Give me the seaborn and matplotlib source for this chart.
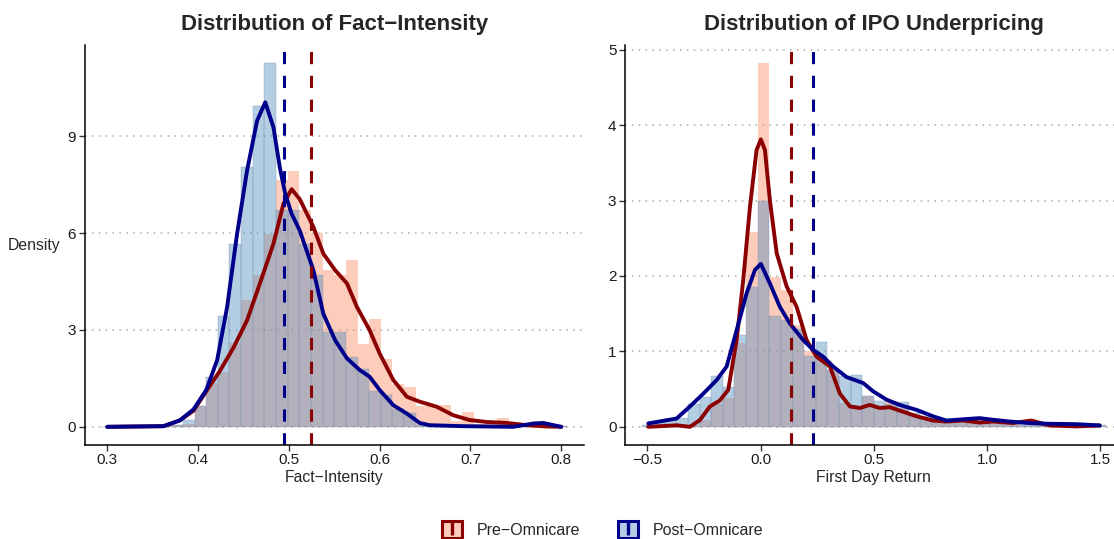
import numpy as np
import pandas as pd
import matplotlib
matplotlib.use("Agg")
import matplotlib.pyplot as plt
import seaborn as sns
from matplotlib.patches import Patch
from matplotlib.lines import Line2D
from matplotlib.legend_handler import HandlerTuple

# ---- data ----
# Fact-intensity histogram (40 bins over 0.3..0.8, density scale)
fact_bins = np.linspace(0.3, 0.8, 40)
fact_pre_hist = [0, 0, 0, 0, 0, 0.02, 0.05, 0.10, 0.65, 1.35,
                 1.70, 2.60, 3.92, 4.69, 5.98, 7.63, 7.91, 6.72, 6.01, 4.87,
                 4.69, 5.16, 2.58, 3.35, 2.11, 1.33, 1.24, 0.64, 0.69, 0.69,
                 0.17, 0.45, 0.10, 0.10, 0.26, 0.10, 0.05, 0.05, 0.02, 0.02]
fact_post_hist = [0, 0, 0, 0, 0, 0.02, 0.05, 0.20, 0.66, 1.55,
                  3.42, 5.65, 8.04, 9.95, 11.26, 6.70, 6.70, 5.65, 4.71, 2.93,
                  2.93, 2.17, 1.80, 1.11, 0.98, 0.54, 0.44, 0.06, 0.05, 0.05,
                  0.03, 0.03, 0.02, 0.02, 0.02, 0.05, 0.10, 0.15, 0.05, 0.02]

# Fact-intensity density curves
fact_pre_kde_x = [0.300, 0.362, 0.380, 0.395, 0.409, 0.424, 0.439, 0.454, 0.468, 0.483,
                  0.494, 0.503, 0.512, 0.527, 0.538, 0.551, 0.564, 0.575, 0.589, 0.600,
                  0.615, 0.630, 0.644, 0.663, 0.681, 0.699, 0.718, 0.740, 0.762, 0.784, 0.800]
fact_pre_kde_y = [0.00, 0.02, 0.20, 0.50, 1.10, 1.73, 2.45, 3.30, 4.43, 5.67,
                  6.90, 7.36, 7.05, 6.19, 5.36, 4.85, 4.44, 3.71, 2.99, 2.27,
                  1.45, 0.93, 0.78, 0.62, 0.36, 0.21, 0.15, 0.12, 0.05, 0.01, 0.00]
fact_post_kde_x = [0.300, 0.362, 0.380, 0.395, 0.409, 0.421, 0.432, 0.443, 0.454, 0.465,
                   0.474, 0.483, 0.490, 0.496, 0.503, 0.512, 0.527, 0.538, 0.551, 0.564,
                   0.578, 0.589, 0.600, 0.615, 0.630, 0.644, 0.655, 0.692, 0.747, 0.769,
                   0.780, 0.800]
fact_post_kde_y = [0.00, 0.02, 0.20, 0.54, 1.14, 2.06, 3.71, 5.98, 7.94, 9.48,
                   10.05, 9.28, 8.04, 7.22, 6.60, 6.08, 4.85, 3.50, 2.68, 2.12,
                   1.76, 1.55, 1.14, 0.67, 0.41, 0.12, 0.05, 0.02, 0.00, 0.10,
                   0.12, 0.00]

# First day return histogram (40 bins over -0.5..1.5)
ret_bins = np.linspace(-0.5, 1.5, 40)
ret_pre_hist = [0.00, 0.02, 0.02, 0.03, 0.02, 0.09, 0.30, 0.38, 1.11, 2.58,
                4.82, 1.98, 1.82, 1.35, 1.00, 0.94, 0.75, 0.31, 0.25, 0.41,
                0.25, 0.34, 0.25, 0.15, 0.10, 0.08, 0.10, 0.05, 0.08, 0.05,
                0.04, 0.05, 0.03, 0.10, 0.03, 0.01, 0.01, 0.01, 0.01, 0.01]
ret_post_hist = [0.02, 0.05, 0.10, 0.12, 0.30, 0.40, 0.67, 0.53, 1.22, 1.85,
                 3.00, 1.47, 1.41, 1.30, 0.94, 1.12, 0.75, 0.68, 0.69, 0.41,
                 0.34, 0.30, 0.33, 0.18, 0.15, 0.10, 0.08, 0.10, 0.10, 0.08,
                 0.10, 0.06, 0.05, 0.04, 0.03, 0.03, 0.02, 0.02, 0.02, 0.02]

# First day return density curves
ret_pre_kde_x = [-0.496, -0.371, -0.312, -0.268, -0.224, -0.180, -0.143, -0.106, -0.077, -0.047,
                 -0.018, 0.001, 0.019, 0.041, 0.071, 0.115, 0.159, 0.203, 0.247, 0.306,
                 0.350, 0.394, 0.438, 0.482, 0.526, 0.570, 0.629, 0.688, 0.761, 0.820,
                 0.894, 0.967, 1.026, 1.114, 1.195, 1.276, 1.394, 1.497]
ret_pre_kde_y = [0.00, 0.02, 0.00, 0.09, 0.27, 0.35, 0.49, 1.15, 1.94, 2.92,
                 3.67, 3.81, 3.67, 3.00, 2.30, 1.86, 1.59, 1.15, 0.93, 0.80,
                 0.44, 0.27, 0.25, 0.29, 0.25, 0.26, 0.20, 0.14, 0.083, 0.07,
                 0.083, 0.057, 0.07, 0.05, 0.083, 0.018, 0.005, 0.018]
ret_post_kde_x = [-0.496, -0.371, -0.312, -0.253, -0.194, -0.150, -0.106, -0.062, -0.025, 0.001,
                  0.041, 0.085, 0.129, 0.188, 0.232, 0.276, 0.320, 0.379, 0.453, 0.497,
                  0.556, 0.614, 0.688, 0.761, 0.820, 0.894, 0.967, 1.026, 1.100, 1.188,
                  1.276, 1.394, 1.497]
ret_post_kde_y = [0.045, 0.11, 0.27, 0.44, 0.62, 0.80, 1.28, 1.77, 2.08, 2.16,
                  1.90, 1.59, 1.37, 1.15, 1.02, 0.93, 0.80, 0.66, 0.58, 0.47,
                  0.36, 0.29, 0.225, 0.14, 0.083, 0.10, 0.115, 0.093, 0.07, 0.05,
                  0.04, 0.035, 0.018]

# group means (dashed lines)
fact_means = {"pre": 0.5243, "post": 0.4946}
ret_means = {"pre": 0.1337, "post": 0.232}

PRE_FILL = "#FB8E66"
POST_FILL = "#5890BF"
FILL_ALPHA = 0.45
PRE_LINE = "#8B0000"
POST_LINE = "#00008B"

sns.set_theme(style="white")
plt.rcParams["font.family"] = ["Liberation Sans", "DejaVu Sans"]


def draw_panel(ax, bins, pre_h, post_h, pre_kx, pre_ky, post_kx, post_ky, means,
               title, xlabel, yticks, xticks, xfmt):
    w = bins[1] - bins[0]
    edges = list(np.append(bins - w / 2, bins[-1] + w / 2))
    hist = pd.DataFrame({"x": bins, "pre": pre_h, "post": post_h})
    sns.histplot(data=hist, x="x", weights="pre", bins=edges, color=PRE_FILL,
                 alpha=FILL_ALPHA, linewidth=0, ax=ax)
    sns.histplot(data=hist, x="x", weights="post", bins=edges, color=POST_FILL,
                 alpha=FILL_ALPHA, edgecolor="#7E96B4", linewidth=0.25, ax=ax)
    sns.lineplot(x=pre_kx, y=pre_ky, color=PRE_LINE, linewidth=2.8, ax=ax,
                 legend=False, sort=False)
    sns.lineplot(x=post_kx, y=post_ky, color=POST_LINE, linewidth=2.8, ax=ax,
                 legend=False, sort=False)
    ax.axvline(means["pre"], color=PRE_LINE, linewidth=2.2, dashes=(4, 3.8))
    ax.axvline(means["post"], color=POST_LINE, linewidth=2.2, dashes=(4, 3.8))

    top = max(max(pre_h), max(post_h))
    ax.set_ylim(-0.05 * top, 1.05 * top)
    span = bins[-1] - bins[0]
    ax.set_xlim(bins[0] - 0.05 * span, bins[-1] + 0.05 * span)

    ax.set_yticks(yticks)
    ax.set_xticks(xticks)
    ax.set_xticklabels([xfmt(v) for v in xticks])
    ax.yaxis.grid(True, linestyle=(0, (1, 3.5)), color="#AAAAAA", linewidth=1.1)
    ax.xaxis.grid(False)
    ax.set_axisbelow(True)
    sns.despine(ax=ax)
    for s in ("left", "bottom"):
        ax.spines[s].set_color("black")
        ax.spines[s].set_linewidth(1.1)
    ax.tick_params(axis="both", which="major", direction="out", length=4, width=1,
                   color="#333333", labelsize=11, labelcolor="#1A1A1A",
                   bottom=True, left=True, pad=2)
    ax.set_title(title, fontsize=16, fontweight="bold", pad=11)
    ax.set_xlabel(xlabel, fontsize=11.3, labelpad=2)
    ax.set_ylabel("")


fig = plt.figure(figsize=(11.14, 5.39), dpi=100)
ax1 = fig.add_axes([0.0759, 0.1744, 0.4483, 0.742])
ax2 = fig.add_axes([0.5608, 0.1744, 0.4473, 0.742])

draw_panel(ax1, fact_bins, fact_pre_hist, fact_post_hist,
           fact_pre_kde_x, fact_pre_kde_y, fact_post_kde_x, fact_post_kde_y,
           fact_means, "Distribution of Fact\u2212Intensity", "Fact\u2212Intensity",
           [0, 3, 6, 9], [0.3, 0.4, 0.5, 0.6, 0.7, 0.8], lambda v: f"{v:.1f}")
ax1.set_ylabel("Density", rotation=0, fontsize=11.3, ha="right", va="center", labelpad=5)

draw_panel(ax2, ret_bins, ret_pre_hist, ret_post_hist,
           ret_pre_kde_x, ret_pre_kde_y, ret_post_kde_x, ret_post_kde_y,
           ret_means, "Distribution of IPO Underpricing", "First Day Return",
           [0, 1, 2, 3, 4, 5], [-0.5, 0.0, 0.5, 1.0, 1.5],
           lambda v: f"{v:.1f}".replace("-", "\u2212"))

handles = [
    (Patch(facecolor="#FDCCBA", edgecolor=PRE_LINE, linewidth=2.2),
     Line2D([], [], color=PRE_LINE, marker="|", markersize=10, markeredgewidth=2.4, linestyle="none")),
    (Patch(facecolor="#B4CDE2", edgecolor=POST_LINE, linewidth=2.2),
     Line2D([], [], color=POST_LINE, marker="|", markersize=10, markeredgewidth=2.4, linestyle="none")),
]
fig.legend(handles, ["Pre\u2212Omnicare", "Post\u2212Omnicare"],
           handler_map={tuple: HandlerTuple(ndivide=1)}, numpoints=1,
           loc="center", bbox_to_anchor=(0.541, 0.018), ncol=2, frameon=False,
           fontsize=11.5, handlelength=1.25, handleheight=1.25, columnspacing=2.4,
           handletextpad=0.9)

fig.savefig("out.png", dpi=100)
